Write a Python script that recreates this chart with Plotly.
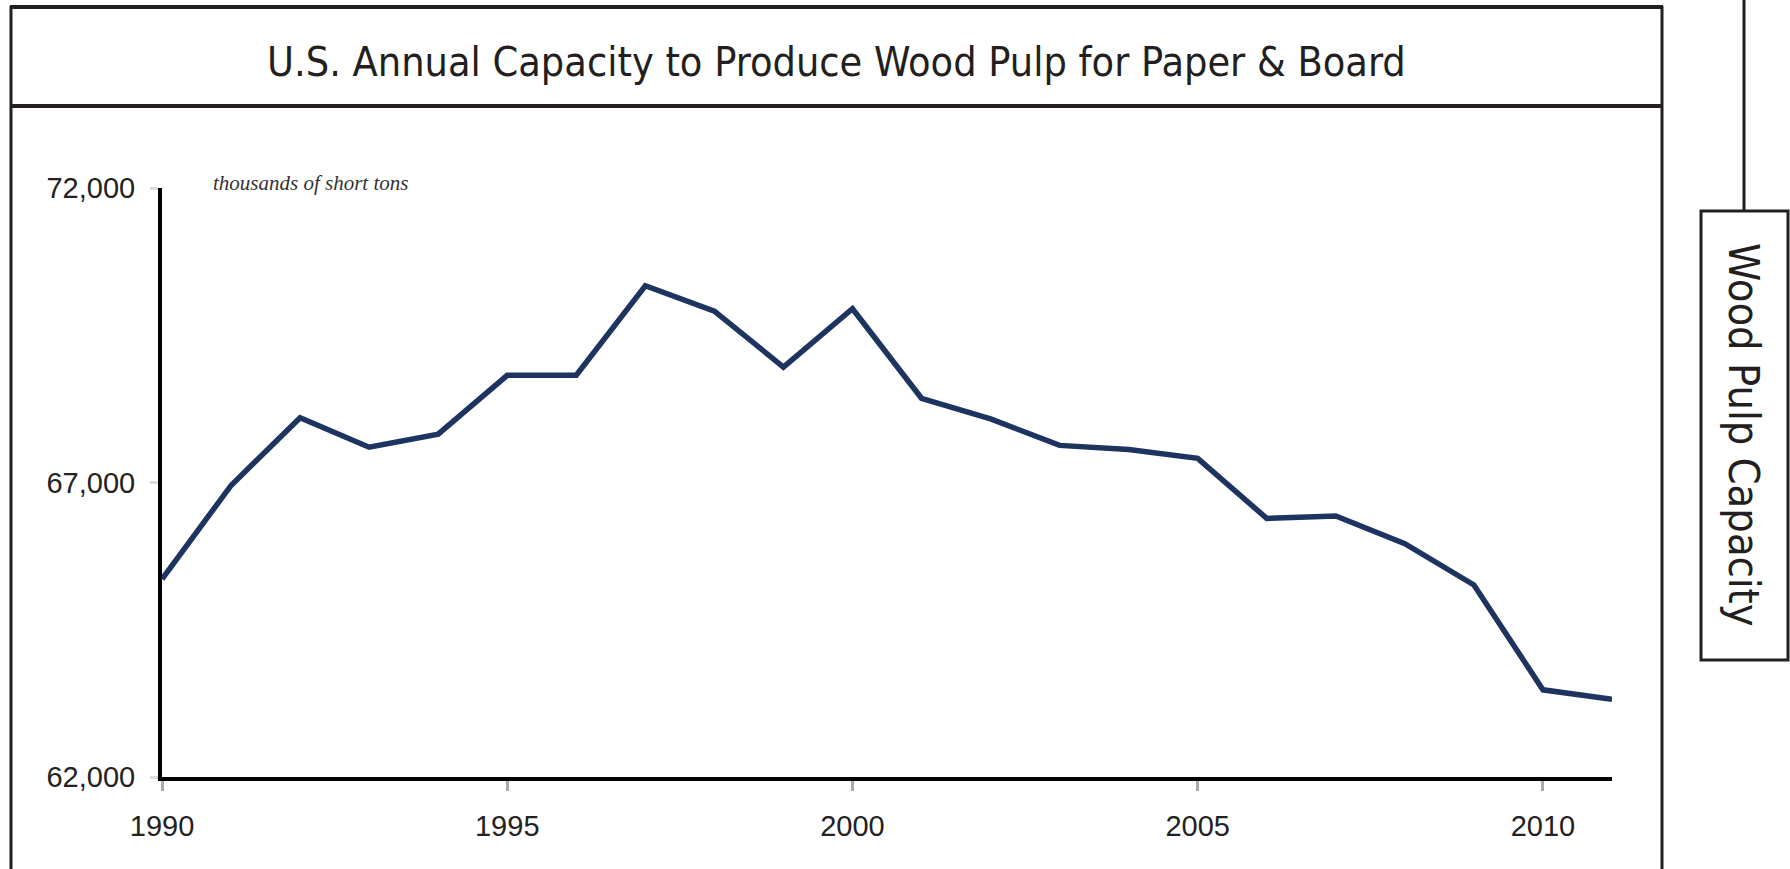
import plotly.graph_objects as go

years = list(range(1990, 2012))
capacity = [65360, 66950, 68100, 67600, 67820, 68820, 68820, 70340, 69910, 68960,
            69950, 68430, 68080, 67630, 67560, 67410, 66390, 66430, 65960, 65260,
            63480, 63320]
x_tick_vals = [1990, 1995, 2000, 2005, 2010]
x_tick_text = ["1990", "1995", "2000", "2005", "2010"]
y_tick_vals = [62000, 67000, 72000]
y_tick_text = ["62,000", "67,000", "72,000"]

title_text = "U.S. Annual Capacity to Produce Wood Pulp for Paper &amp; Board"
unit_text = "thousands of short tons"
side_text = "Wood Pulp Capacity"

W, H = 1790, 869
def px(x):
    return x / W
def py(y):
    return 1 - y / H

COND = "DejaVu Sans Condensed, Liberation Sans Narrow, sans-serif"
INK = "#231f20"

fig = go.Figure()
fig.add_trace(go.Scatter(
    x=years, y=capacity, mode="lines",
    line=dict(color="#1d3461", width=5.5),
    hoverinfo="x+y", showlegend=False,
))

fig.update_layout(
    width=W, height=H, autosize=False,
    margin=dict(l=0, r=0, t=0, b=0, pad=0),
    paper_bgcolor="white", plot_bgcolor="white",
    xaxis=dict(
        domain=[px(162), px(1612)], range=[1990, 2011], automargin=False,
        showgrid=False, zeroline=False,
        showline=True, linecolor="black", linewidth=4,
        tickmode="array", tickvals=x_tick_vals, ticktext=x_tick_text,
        ticks="outside", ticklen=10, tickwidth=3, tickcolor="#aaaaaa",
        ticklabelstandoff=10,
        tickfont=dict(family="Liberation Sans, Arial, sans-serif", size=29, color="#222"),
    ),
    yaxis=dict(
        domain=[py(777), py(188)], range=[62000, 72000], automargin=False,
        showgrid=False, zeroline=False,
        showline=True, linecolor="black", linewidth=4,
        tickmode="array", tickvals=y_tick_vals, ticktext=y_tick_text,
        ticks="outside", ticklen=8, tickwidth=3, tickcolor="#dddddd",
        ticklabelstandoff=9,
        tickfont=dict(family="Liberation Sans, Arial, sans-serif", size=29, color="#222"),
    ),
)

line = dict(color=INK, width=3)
shapes = [
    dict(type="line", xref="paper", yref="paper", x0=px(11), x1=px(11), y0=py(6), y1=-0.05, line=line),
    dict(type="line", xref="paper", yref="paper", x0=px(1662), x1=px(1662), y0=py(6), y1=-0.05, line=line),
    dict(type="line", xref="paper", yref="paper", x0=px(10), x1=px(1663), y0=py(7), y1=py(7), line=dict(color=INK, width=4)),
    dict(type="line", xref="paper", yref="paper", x0=px(10), x1=px(1663), y0=py(106), y1=py(106), line=dict(color=INK, width=4)),
    dict(type="line", xref="paper", yref="paper", x0=px(1744), x1=px(1744), y0=1.01, y1=py(211), line=line),
    dict(type="rect", xref="paper", yref="paper", x0=px(1701), x1=px(1788), y0=py(211), y1=py(660), line=line, fillcolor="white"),
]
fig.update_layout(shapes=shapes)

fig.add_annotation(
    text=title_text, xref="paper", yref="paper", x=px(836), y=py(62),
    xanchor="center", yanchor="middle", showarrow=False,
    font=dict(family=COND, size=41, color=INK),
)
fig.add_annotation(
    text=unit_text, xref="paper", yref="paper", x=px(211), y=py(183),
    xanchor="left", yanchor="middle", showarrow=False,
    font=dict(family="Liberation Serif, Times New Roman, serif", size=21, color="#333", style="italic"),
)
fig.add_annotation(
    text=side_text, xref="paper", yref="paper", x=px(1744), y=py(435),
    xanchor="center", yanchor="middle", showarrow=False, textangle=90,
    font=dict(family=COND, size=43, color=INK),
)

fig.write_html("out.html")
